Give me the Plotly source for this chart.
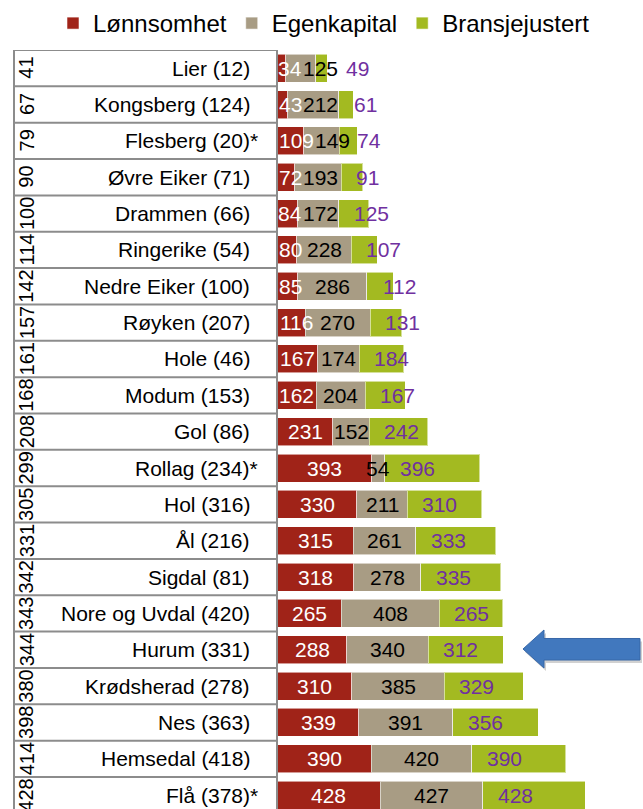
import plotly.graph_objects as go

# Kommuner (antall i parentes) og rangering
kommuner = ["Lier (12)", "Kongsberg (124)", "Flesberg (20)*", "Øvre Eiker (71)",
            "Drammen (66)", "Ringerike (54)", "Nedre Eiker (100)", "Røyken (207)",
            "Hole (46)", "Modum (153)", "Gol (86)", "Rollag (234)*", "Hol (316)",
            "Ål (216)", "Sigdal (81)", "Nore og Uvdal (420)", "Hurum (331)",
            "Krødsherad (278)", "Nes (363)", "Hemsedal (418)", "Flå (378)*"]
rangering = [41, 67, 79, 90, 100, 114, 142, 157, 161, 168, 208, 299, 305, 331,
             342, 343, 344, 380, 398, 414, 428]

lonnsomhet = [34, 43, 109, 72, 84, 80, 85, 116, 167, 162, 231, 393, 330, 315,
              318, 265, 288, 310, 339, 390, 428]
egenkapital = [125, 212, 149, 193, 172, 228, 286, 270, 174, 204, 152, 54, 211,
               261, 278, 408, 340, 385, 391, 420, 427]
bransjejustert = [49, 61, 74, 91, 125, 107, 112, 131, 184, 167, 242, 396, 310,
                  333, 335, 265, 312, 329, 356, 390, 428]

serier = ["Lønnsomhet", "Egenkapital", "Bransjejustert"]
farger = ["#A02318", "#A89C84", "#A3BA21"]
tekstfarger = ["#FFFFFF", "#000000", "#7030A0"]

FONT = "Liberation Sans, Arial, sans-serif"
W, H = 643, 809
TOP = 50
X0_PX = 277.5            # left edge of the bar area
PX_PER_UNIT = 0.24       # horizontal scale of the bars
ROW_PX = 36.35           # height of one category row
XMAX = (W - X0_PX) / PX_PER_UNIT
YBOTTOM = (H - TOP) / ROW_PX - 0.5
LINE = "#8C8C8C"

fig = go.Figure()
for navn, verdier, farge in zip(serier, [lonnsomhet, egenkapital, bransjejustert], farger):
    fig.add_trace(go.Bar(
        y=kommuner, x=verdier, name=navn, orientation="h",
        marker=dict(color=farge, line=dict(color="rgba(255,255,255,0.55)", width=1)),
        hoverinfo="x+y",
    ))

# Data labels: red and tan centred in their segment, green placed after the
# start of its segment; labels are pushed right so they do not collide.
DIGIT_PX = 0.556 * 21
annotations = []
for i, (r, b, g) in enumerate(zip(lonnsomhet, egenkapital, bransjejustert)):
    w_r = len(str(r)) * DIGIT_PX
    left_r = max(r / 2 * PX_PER_UNIT - w_r / 2, 1.0)
    right_r = left_r + w_r

    w_b = len(str(b)) * DIGIT_PX
    left_b = max((r + b / 2) * PX_PER_UNIT - w_b / 2, right_r + 1)
    right_b = left_b + w_b

    w_g = len(str(g)) * DIGIT_PX
    left_g = max((r + b) * PX_PER_UNIT + 15, right_b + 8)

    for verdi, left, w, farge in ((r, left_r, w_r, tekstfarger[0]),
                                  (b, left_b, w_b, tekstfarger[1]),
                                  (g, left_g, w_g, tekstfarger[2])):
        annotations.append(dict(
            x=(left + w / 2) / PX_PER_UNIT, y=kommuner[i], xref="x", yref="y",
            text=str(verdi), showarrow=False, xanchor="center", yanchor="middle",
            font=dict(family=FONT, size=21, color=farge),
        ))

# Category table on the left: names and rotated rank numbers
for navn, rang in zip(kommuner, rangering):
    annotations.append(dict(
        x=252 / W, y=navn, xref="paper", yref="y", text=navn, showarrow=False,
        xanchor="right", yanchor="middle", xshift=8 if navn.endswith("*") else 0,
        font=dict(family=FONT, size=21, color="#000000"),
    ))
    annotations.append(dict(
        x=26.5 / W, y=navn, xref="paper", yref="y", text=str(rang), showarrow=False,
        textangle=-90, xanchor="center", yanchor="middle",
        font=dict(family=FONT, size=20, color="#000000"),
    ))

shapes = []
# table grid lines
for k in range(len(kommuner)):
    shapes.append(dict(type="line", xref="paper", yref="y",
                       x0=14 / W, x1=X0_PX / W, y0=k - 0.5, y1=k - 0.5,
                       line=dict(color=LINE, width=2)))
shapes.append(dict(type="line", xref="paper", yref="paper",
                   x0=14 / W, x1=14 / W, y0=0, y1=1,
                   line=dict(color=LINE, width=2)))


def px_to_paper(px, py):
    return px / W, (H - py) / (H - TOP)


def path(points):
    pts = [px_to_paper(x, y) for x, y in points]
    return "M " + " L ".join(f"{x:.5f},{y:.5f}" for x, y in pts) + " Z"


# highlight arrow pointing at Hurum
pil = [(523, 649), (544, 630), (544, 638.5), (640, 638.5), (640, 660),
       (544, 660), (544, 668)]
skygge = [(x + 2, y + 3) for x, y in pil]
shapes.append(dict(type="path", xref="paper", yref="paper", path=path(skygge),
                   fillcolor="rgba(0,0,0,0.18)", line=dict(width=0)))
shapes.append(dict(type="path", xref="paper", yref="paper", path=path(pil),
                   fillcolor="#4178BE", line=dict(color="#3868A8", width=1)))

fig.update_layout(
    width=W, height=H,
    margin=dict(l=0, r=0, t=TOP, b=0, autoexpand=False),
    barmode="stack", bargap=0.23,
    plot_bgcolor="white", paper_bgcolor="white",
    font=dict(family=FONT, color="#000000"),
    xaxis=dict(domain=[X0_PX / W, 1], range=[0, XMAX], visible=False,
               showgrid=False, zeroline=False),
    yaxis=dict(type="category", categoryorder="array", categoryarray=kommuner,
               range=[YBOTTOM, -0.5], showticklabels=False, ticks="",
               showgrid=False, zeroline=False,
               showline=True, linecolor=LINE, linewidth=2),
    legend=dict(orientation="h", xref="container", yref="container",
                x=53 / W, y=1 - 1 / H, xanchor="left", yanchor="top",
                font=dict(family=FONT, size=24, color="#000000"),
                bgcolor="rgba(0,0,0,0)", traceorder="normal"),
    annotations=annotations,
    shapes=shapes,
    showlegend=True,
)

fig.write_html("out.html")
